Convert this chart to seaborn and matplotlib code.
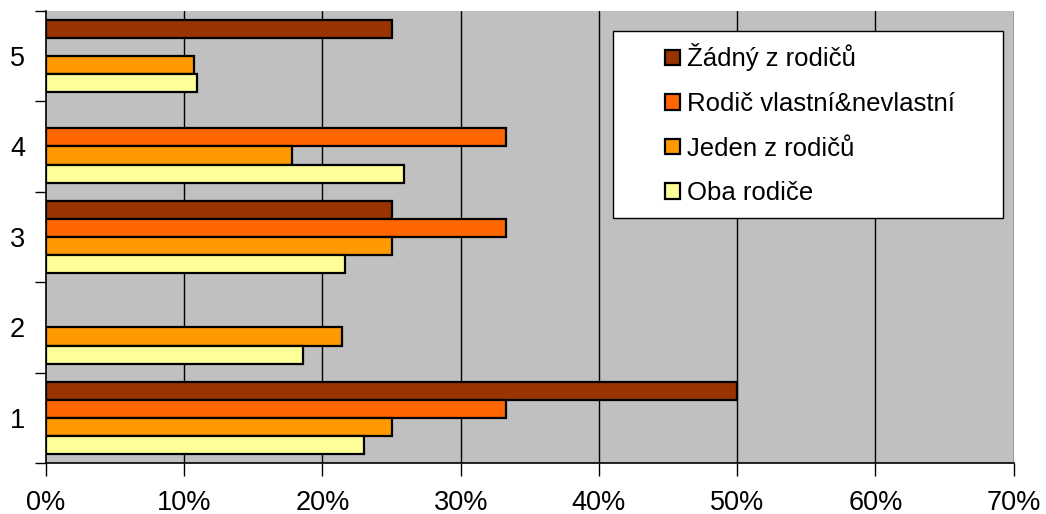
import matplotlib
matplotlib.use('Agg')
import matplotlib.pyplot as plt
import matplotlib.ticker as mticker
from matplotlib.patches import Rectangle
import pandas as pd
import seaborn as sns

# values, percent; None = no bar
categories = ['5', '4', '3', '2', '1']
series = ['Žádný z rodičů', 'Rodič vlastní&nevlastní', 'Jeden z rodičů', 'Oba rodiče']
zadny = [25.0, None, 25.0, None, 50.0]
rodic_vn = [None, 33.3, 33.3, None, 33.3]
jeden = [10.7, 17.8, 25.0, 21.4, 25.0]
oba = [10.9, 25.9, 21.6, 18.6, 23.0]
colors = ['#993300', '#FF6600', '#FF9900', '#FFFF99']
x_ticks = [0, 10, 20, 30, 40, 50, 60, 70]

rows = []
for name, vals in zip(series, [zadny, rodic_vn, jeden, oba]):
    for cat, v in zip(categories, vals):
        if v is not None:
            rows.append({'kat': cat, 'skupina': name, 'pct': v})
df = pd.DataFrame(rows)

sns.set_style('white')
plt.rcParams['font.family'] = ['Liberation Sans', 'DejaVu Sans']
plt.rcParams['text.color'] = 'black'
plt.rcParams['xtick.color'] = 'black'
plt.rcParams['ytick.color'] = 'black'

fig = plt.figure(figsize=(10.46, 5.14), dpi=100)
ax = fig.add_axes([0.044, 0.099, 0.925, 0.880])
ax.set_facecolor('#C0C0C0')

sns.barplot(data=df, y='kat', x='pct', hue='skupina', order=categories,
            hue_order=series, palette=colors, orient='h', width=0.8,
            edgecolor='black', linewidth=1.6, saturation=1, ax=ax, zorder=3)

ax.set_xlim(0, 70)
ax.set_ylim(4.5, -0.5)
ax.set_xticks(x_ticks)
ax.xaxis.set_major_formatter(mticker.FuncFormatter(lambda v, p: f'{v:.0f}%'))
for x in x_ticks[1:]:
    ax.axvline(x, color='black', lw=1, zorder=1)

ax.set_yticks(range(len(categories)))
ax.set_yticklabels(categories)
ax.set_yticks([i - 0.5 for i in range(len(categories) + 1)], minor=True)
ax.tick_params(axis='y', which='major', length=0, pad=15, labelsize=19.5)
ax.tick_params(axis='y', which='minor', length=8, width=1, direction='out', left=True)
ax.tick_params(axis='x', which='major', length=9, width=1, direction='out',
               bottom=True, pad=10, labelsize=19.5)

ax.set_xlabel('')
ax.set_ylabel('')
for s in ['top', 'right']:
    ax.spines[s].set_visible(False)
for s in ['left', 'bottom']:
    ax.spines[s].set_color('black')
    ax.spines[s].set_linewidth(1.2)
    ax.spines[s].set_zorder(4)

# legend box (Excel style, wider than its contents)
ax.add_patch(Rectangle((0.586, 0.543), 0.403, 0.413, transform=ax.transAxes,
                       facecolor='white', edgecolor='black', lw=1, zorder=5))
handles, labels = ax.get_legend_handles_labels()
leg = ax.legend(handles, labels, loc='center', bbox_to_anchor=(0.79, 0.749),
                frameon=False, fontsize=18.5, handlelength=0.55, handleheight=0.55,
                handletextpad=0.3, labelspacing=0.8)
leg.set_zorder(6)

fig.savefig('out.png', dpi=100)
